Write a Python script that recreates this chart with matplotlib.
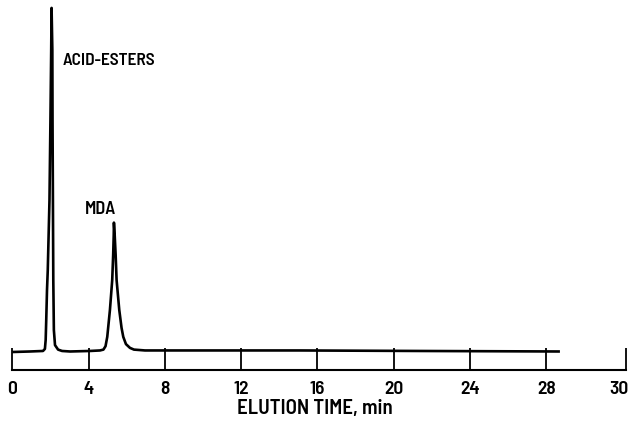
import matplotlib
matplotlib.use("Agg")
import matplotlib.pyplot as plt
import matplotlib.transforms as mtransforms
from matplotlib import font_manager

# Chromatogram trace (time in min, detector signal in relative units)
time_min = [0.00, 0.93, 1.61, 1.71, 1.75, 1.78, 1.82, 1.86, 1.95, 2.00, 2.04, 2.06,
            2.10, 2.11, 2.13, 2.15, 2.18, 2.24, 2.40, 2.61, 3.03,
            4.07, 4.60, 4.78, 4.89, 4.98, 5.12, 5.24, 5.29, 5.32, 5.33,
            5.37, 5.42, 5.47, 5.61, 5.73, 5.82, 5.96, 6.17, 6.38, 6.96,
            9.84, 15.09, 21.38, 28.72]
signal = [0.0, 0.15, 0.3, 0.9, 3.5, 9.3, 18.0, 23.8, 44.2, 67.4, 87.8, 100.0,
          87.8, 67.4, 44.2, 20.9, 6.4, 2.0, 0.7, 0.3, 0.15,
          0.3, 0.45, 0.7, 1.7, 4.4, 12.2, 20.9, 28.2, 34.0, 37.6,
          34.0, 28.2, 20.9, 12.2, 7.0, 4.4, 2.3, 1.2, 0.7, 0.45,
          0.45, 0.45, 0.3, 0.15]

# Axis ticks as drawn in the original figure (the last tick, labelled 30, sits further right)
tick_positions = [0, 4, 8, 12, 16, 20, 24, 28, 32.17]
tick_labels = ["0", "4", "8", "12", "16", "20", "24", "28", "30"]

peak_labels = ["ACID-ESTERS", "MDA"]
peak_label_pos = [(2.65, 84.6), (4.65, 41.3)]
x_title = "ELUTION TIME, min"

names = {f.name for f in font_manager.fontManager.ttflist}
if "Barlow Semi Condensed" in names:
    fam = "Barlow Semi Condensed"
    scale = 1.0
    wt = 600
else:
    fam = "Liberation Sans"
    scale = 0.85
    wt = "normal"
plt.rcParams["font.family"] = [fam, "DejaVu Sans"]
plt.rcParams["font.weight"] = wt

fig = plt.figure(figsize=(6.31, 4.26), dpi=100)
ax = fig.add_axes([12.3 / 631, 56 / 426, 613.4 / 631, 370 / 426])
ax.plot(time_min, signal, color="black", lw=1.9, solid_joinstyle="round",
        solid_capstyle="butt", clip_on=False)
ax.set_xlim(0, 32.17)
ax.set_ylim(-5.23, 102.3)

for s in ["top", "left", "right"]:
    ax.spines[s].set_visible(False)
ax.spines["bottom"].set_linewidth(1.5)
ax.set_yticks([])
ax.set_xticks(tick_positions)
ax.set_xticklabels(tick_labels)
ax.tick_params(axis="x", direction="in", length=15.5, width=1.3, pad=8.0,
               labelsize=14 * scale, colors="black")
last = ax.get_xticklabels()[-1]
last.set_horizontalalignment("right")
last.set_transform(last.get_transform() + mtransforms.ScaledTranslation(3 / 100, 0, fig.dpi_scale_trans))

(lx, ly), (mx, my) = peak_label_pos
ax.text(lx, ly, peak_labels[0], fontsize=12.5 * scale, ha="left", va="center")
ax.text(mx, my, peak_labels[1], fontsize=13 * scale, ha="center", va="center")

fig.text(315 / 631, 17 / 426, x_title, fontsize=15 * scale, ha="center", va="center")

fig.savefig("out.png", dpi=100)
